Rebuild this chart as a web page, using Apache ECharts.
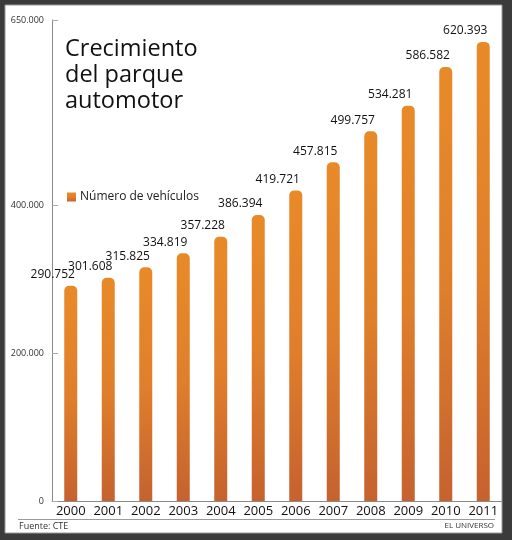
<!DOCTYPE html>
<html>
<head>
<meta charset="utf-8">
<script src="https://cdn.jsdelivr.net/npm/echarts@6/dist/echarts.min.js"></script>
<style>html,body{margin:0;padding:0;background:#fff}#c{width:512px;height:540px}</style>
</head>
<body>
<div id="c"></div>
<script>
const years = ['2000','2001','2002','2003','2004','2005','2006','2007','2008','2009','2010','2011'];
const vehicles = [290752, 301608, 315825, 334819, 357228, 386394, 419721, 457815, 499757, 534281, 586582, 620393];
const yTicks = [0, 200000, 400000, 650000];
const seriesName = 'Número de vehículos';
const titleText = 'Crecimiento\ndel parque\nautomotor';
const sourceText = 'Fuente: CTE';
const creditText = 'EL UNIVERSO';

const fmt = v => String(v).replace(/\B(?=(\d{3})+(?!\d))/g, '.');
const FONT = '"Open Sans", "Noto Sans", sans-serif';

const chart = echarts.init(document.getElementById('c'), null, {renderer: 'canvas'});
chart.setOption({
  backgroundColor: '#3b3b3b',
  animation: false,
  textStyle: {fontFamily: FONT},
  graphic: [
    {type: 'rect', z: -10, silent: true, shape: {x: 5, y: 5, width: 497, height: 528},
     style: {fill: '#ffffff', stroke: '#9a9a9a', lineWidth: 1}},
    {type: 'line', silent: true, shape: {x1: 18, y1: 519.5, x2: 495, y2: 519.5},
     style: {stroke: '#9a9a9a', lineWidth: 1}},
    {type: 'text', silent: true, left: 19, top: 522,
     style: {text: sourceText, font: '9px ' + FONT, fill: '#333'}},
    {type: 'text', silent: true, right: 18, top: 522,
     style: {text: creditText, font: '8px ' + FONT, fill: '#333'}}
  ],
  title: {
    text: titleText,
    left: 60, top: 31,
    textStyle: {fontFamily: FONT, fontSize: 23.5, fontWeight: 'normal', color: '#111', lineHeight: 26}
  },
  legend: {
    left: 62, top: 186,
    icon: 'rect', itemWidth: 9, itemHeight: 9, itemGap: 5,
    textStyle: {fontFamily: FONT, fontSize: 12, color: '#222', padding: [0,0,0,-1]},
    data: [seriesName]
  },
  grid: {left: 52, right: 10, top: 20, bottom: 39, containLabel: false},
  xAxis: {
    type: 'category',
    data: years,
    axisLine: {lineStyle: {color: '#8a8a8a', width: 1}},
    axisTick: {show: false},
    axisLabel: {interval: 0, hideOverlap: false, fontFamily: FONT, fontSize: 13, color: '#111', margin: 4}
  },
  yAxis: {
    type: 'value',
    min: 0, max: 650000,
    splitLine: {show: false},
    axisLine: {show: true, lineStyle: {color: '#8a8a8a', width: 1}},
    axisTick: {show: true, inside: true, length: 6, lineStyle: {color: '#aaaaaa'}, customValues: yTicks},
    axisLabel: {fontFamily: FONT, fontSize: 9, color: '#333', margin: 8, customValues: yTicks, formatter: fmt}
  },
  series: [{
    name: seriesName,
    type: 'bar',
    data: vehicles,
    barWidth: 13,
    itemStyle: {
      borderRadius: [5, 5, 0, 0],
      color: new echarts.graphic.LinearGradient(0, 0, 0, 1, [
        {offset: 0, color: '#e98a29'},
        {offset: 0.5, color: '#e07f2b'},
        {offset: 1, color: '#c5622f'}
      ])
    },
    label: {
      show: true, position: 'top', distance: 5, offset: [-18, 0],
      fontFamily: FONT, fontSize: 12, color: '#111',
      formatter: p => fmt(p.value)
    }
  }]
});
</script>
</body>
</html>
